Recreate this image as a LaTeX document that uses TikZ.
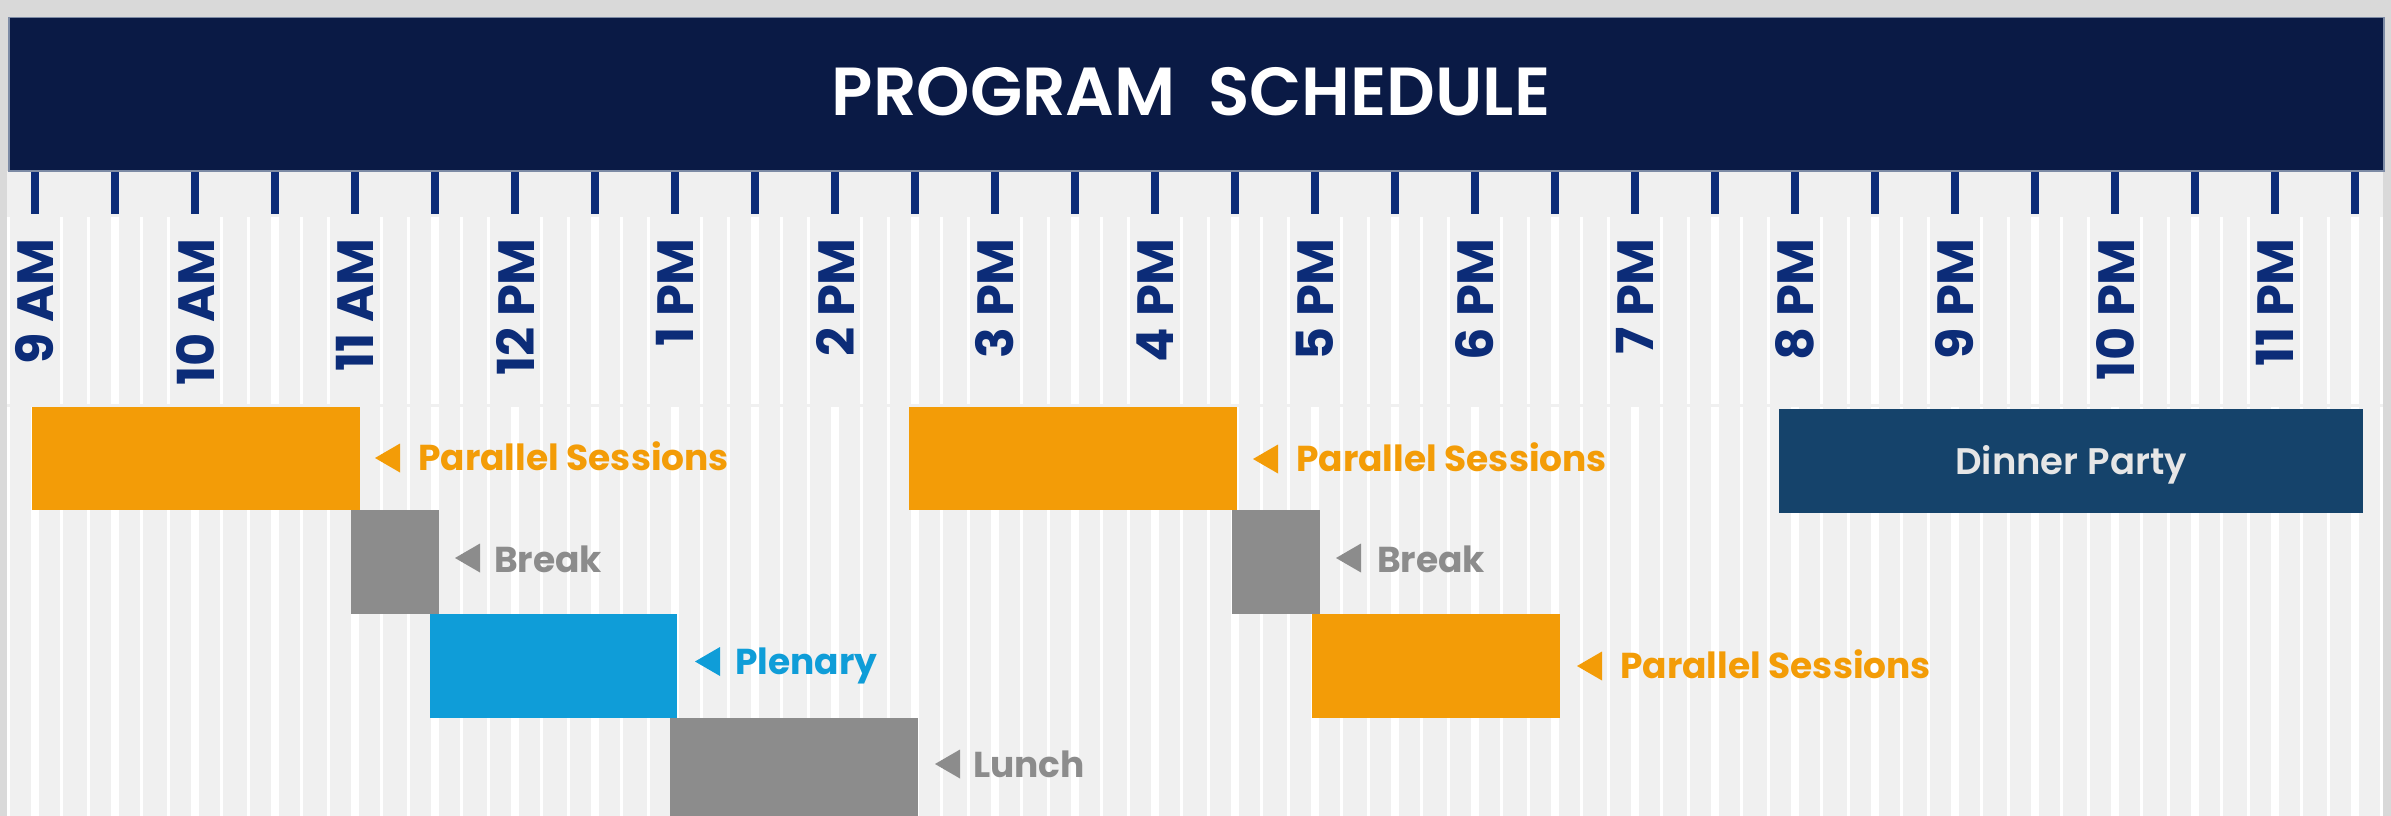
\documentclass[tikz,border=0pt]{standalone}
\usepackage{fontspec}
\setmainfont{Poppins}
\newfontfamily\titlefont{Poppins}[UprightFont={* SemiBold}]
\definecolor{bgc}{HTML}{D9D9D9}
\definecolor{chartc}{HTML}{F0F0F0}
\definecolor{headc}{HTML}{0A1A45}
\definecolor{headln}{HTML}{7D8BA5}
\definecolor{tickc}{HTML}{0C2C78}
\definecolor{orangec}{HTML}{F39C07}
\definecolor{grayc}{HTML}{8C8C8C}
\definecolor{bluec}{HTML}{0F9DD8}
\definecolor{dinnerc}{HTML}{15436B}
\definecolor{dinnertxt}{HTML}{E6E6E6}
\tikzset{
  timelbl/.style={rotate=90, anchor=east, inner sep=0pt, text=tickc,
    font=\fontsize{51}{51}\selectfont\bfseries},
  lbl/.style={anchor=base west, inner sep=0pt,
    font=\fontsize{36}{36}\selectfont\bfseries},
  thinln/.style={white, line width=3pt},
  thickln/.style={white, line width=8pt},
  tickln/.style={tickc, line width=8.5pt},
}
\begin{document}
\begin{tikzpicture}[x=1pt,y=-1pt]
\useasboundingbox (0,0) rectangle (2391,816);
\fill[bgc] (0,0) rectangle (2391,816);
\fill[chartc] (7,171) rectangle (2383,816);
% grid lines
\begin{scope}
\clip (7,171) rectangle (2383,816);
\foreach \j in {-1,...,29}{
  \draw[thinln] ({35+80*\j+26.667},216.7) -- ({35+80*\j+26.667},404);
  \draw[thinln] ({35+80*\j+53.333},216.7) -- ({35+80*\j+53.333},404);
  \draw[thinln] ({35+80*\j+26.667},406.7) -- ({35+80*\j+26.667},816);
  \draw[thinln] ({35+80*\j+53.333},406.7) -- ({35+80*\j+53.333},816);
}
\foreach \j in {0,...,29}{
  \draw[thickln] ({35+80*\j},406.7) -- ({35+80*\j},816);
}
\foreach \j in {0,...,14}{
  \draw[thickln] ({115+160*\j},216.7) -- ({115+160*\j},404);
}
\end{scope}
% ticks
\foreach \j in {0,...,29}{
  \draw[tickln] ({35+80*\j},171) -- ({35+80*\j},214);
}
% header
\fill[headc, draw=headln, line width=1.2pt] (9,17.5) rectangle (2384,171);
\node[text=white, inner sep=0pt, font=\fontsize{68}{68}\selectfont\titlefont] (title) at (1191,92) {PROGRAM\ \ SCHEDULE};
% time labels
\foreach \t [count=\i from 0] in {9 AM,10 AM,11 AM,12 PM,1 PM,2 PM,3 PM,4 PM,5 PM,6 PM,7 PM,8 PM,9 PM,10 PM,11 PM}{
  \node[timelbl] (t\i) at ({35+160*\i},238) {\t};
}
% bars
\fill[orangec] (32,407) rectangle (360,510);
\fill[grayc] (351,510) rectangle (439,614);
\fill[bluec] (430,614) rectangle (677,718);
\fill[grayc] (670,718) rectangle (918,816);
\fill[orangec] (909,407) rectangle (1237,510);
\fill[grayc] (1232,510) rectangle (1320,614);
\fill[orangec] (1312,614) rectangle (1560,718);
\fill[dinnerc] (1779,409) rectangle (2363,513);
\node[text=dinnertxt, inner sep=0pt, font=\fontsize{37}{37}\selectfont\titlefont] (dinner) at (2071,465) {Dinner Party};
% labels
\fill[orangec] (375,458) -- (400,443.5) -- (400,472.5) -- cycle;
\node[lbl, text=orangec] (ps1) at (418,470.5) {Parallel Sessions};
\fill[grayc] (455,558) -- (480,543.5) -- (480,572.5) -- cycle;
\node[lbl, text=grayc] (br1) at (494,572) {Break};
\fill[bluec] (695,661.5) -- (720,647) -- (720,676) -- cycle;
\node[lbl, text=bluec] (pl) at (735,674.5) {Plenary};
\fill[grayc] (935,764) -- (960,749.5) -- (960,778.5) -- cycle;
\node[lbl, text=grayc] (lu) at (973,777.5) {Lunch};
\fill[orangec] (1253,459) -- (1278,444.5) -- (1278,473.5) -- cycle;
\node[lbl, text=orangec] (ps2) at (1296,471.5) {Parallel Sessions};
\fill[grayc] (1336,558) -- (1361,543.5) -- (1361,572.5) -- cycle;
\node[lbl, text=grayc] (br2) at (1377,572) {Break};
\fill[orangec] (1577,666) -- (1602,651.5) -- (1602,680.5) -- cycle;
\node[lbl, text=orangec] (ps3) at (1620,678.5) {Parallel Sessions};
\end{tikzpicture}
\end{document}
